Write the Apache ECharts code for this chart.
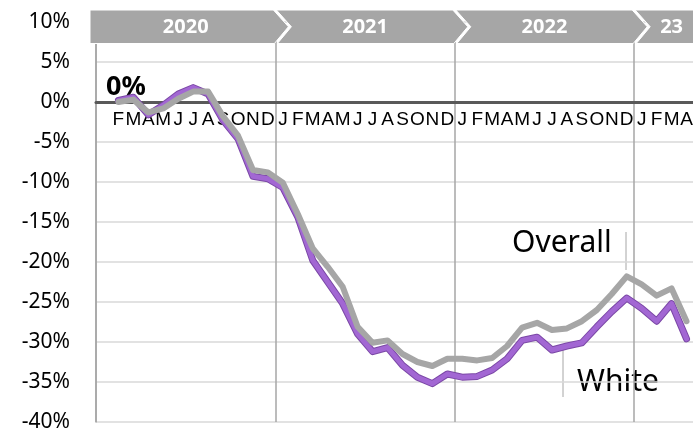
<!DOCTYPE html>
<html>
<head>
<meta charset="utf-8">
<script src="https://cdn.jsdelivr.net/npm/echarts@6/dist/echarts.min.js"></script>
</head>
<body style="margin: 0">
<div id="container" style="width: 693px; height: 430px"></div>
<script>
// month letters, Jan 2020 slot left empty
var months = ['', 'F', 'M', 'A', 'M', 'J', 'J', 'A', 'S', 'O', 'N', 'D',
  'J', 'F', 'M', 'A', 'M', 'J', 'J', 'A', 'S', 'O', 'N', 'D',
  'J', 'F', 'M', 'A', 'M', 'J', 'J', 'A', 'S', 'O', 'N', 'D',
  'J', 'F', 'M', 'A'];
var overall = [null, 0.0, 0.3, -1.3, -0.8, 0.4, 1.3, 1.3, -1.8, -4.2, -8.5, -8.8,
  -10.1, -14.0, -18.3, -20.6, -23.1, -28.1, -30.1, -29.8, -31.5, -32.5, -33.0, -32.1,
  -32.1, -32.3, -32.0, -30.5, -28.2, -27.6, -28.5, -28.3, -27.4, -26.0, -24.0, -21.8,
  -22.8, -24.2, -23.3, -27.4];
var white = [null, 0.2, 0.6, -1.6, -0.4, 1.0, 1.8, 1.0, -2.3, -4.6, -9.3, -9.6,
  -10.7, -14.4, -19.8, -22.5, -25.2, -29.0, -31.2, -30.7, -32.9, -34.4, -35.2, -34.0,
  -34.4, -34.3, -33.5, -32.1, -29.8, -29.4, -31.0, -30.5, -30.1, -28.1, -26.2, -24.5,
  -25.8, -27.4, -25.2, -29.6];
var years = ['2020', '2021', '2022', '23'];
var yearStart = [0, 12, 24, 36];
var yearLen = [12, 12, 12, 5];

var yMin = -40, yMax = 10;
var gridH = 400;
var font = '"Noto Sans", "Open Sans", sans-serif';
var chart = echarts.init(document.getElementById('container'));

var option = {
  animation: false,
  grid: { left: 96, top: 22, width: 598, height: gridH, outerBoundsMode: 'none' },
  xAxis: {
    type: 'category',
    data: months,
    // month axis sits on the 0% line
    offset: -gridH * (0 - yMin) / (yMax - yMin),
    axisLine: { onZero: false, lineStyle: { color: '#595959', width: 3 } },
    axisTick: { show: false },
    axisLabel: {
      interval: 0, margin: 8, color: '#000',
      fontSize: 19, fontFamily: '"Liberation Sans Narrow", "Liberation Sans", sans-serif'
    },
    splitLine: {
      show: true,
      interval: function (i) { return i % 12 === 0; },
      lineStyle: { color: '#A6A6A6', width: 1.5 }
    }
  },
  yAxis: {
    type: 'value', min: yMin, max: yMax, interval: 5,
    axisLine: { show: true, lineStyle: { color: '#A6A6A6', width: 1.5 } },
    axisTick: { show: false },
    axisLabel: { formatter: '{value}%', color: '#000', fontSize: 21, fontFamily: font, margin: 26 },
    splitLine: { lineStyle: { color: '#D9D9D9', width: 1.5 } }
  },
  series: [
    {
      name: 'White edge', type: 'line', data: white, symbol: 'none', z: 2,
      lineStyle: { color: '#7B48A6', width: 7, join: 'round', cap: 'round' }
    },
    {
      name: 'White', type: 'line', data: white, symbol: 'none', z: 3,
      lineStyle: { color: '#A267D3', width: 5, join: 'round', cap: 'round' }
    },
    {
      name: 'Overall', type: 'line', data: overall, symbol: 'none', z: 4,
      lineStyle: { color: '#A6A6A6', width: 6, join: 'round', cap: 'round' }
    },
    {
      // year banner along the top
      type: 'custom', z: 10, clip: false,
      data: years.map(function (y, i) { return [yearStart[i], 0]; }),
      renderItem: function (params, api) {
        var i = params.dataIndex;
        var band = api.size([1, 0])[0];
        var x0 = api.coord([yearStart[i], 0])[0] - band / 2;
        var x1 = x0 + band * yearLen[i];
        var top = params.coordSys.y - 12, bot = params.coordSys.y + 21.5;
        var mid = (top + bot) / 2;
        var pts;
        if (i === 0) {
          pts = [[x0 - 6, top], [x1 - 2, top], [x1 + 13, mid], [x1 - 1, bot], [x0 - 6, bot]];
        } else {
          pts = [[x0 + 1, top], [x1 - 2, top], [x1 + 13, mid], [x1 - 1, bot], [x0 + 2, bot], [x0 + 16, mid]];
        }
        return {
          type: 'group',
          children: [
            { type: 'polygon', shape: { points: pts }, style: { fill: '#A6A6A6', stroke: '#fff', lineWidth: 1 } },
            {
              type: 'text',
              style: {
                text: years[i], x: (x0 + x1) / 2, y: mid + 1, align: 'center', verticalAlign: 'middle',
                fill: '#fff', font: 'bold 20px ' + font
              }
            }
          ]
        };
      }
    }
  ],
  graphic: [
    { type: 'text', left: 106, top: 74, style: { text: '0%', font: 'bold 27px ' + font, fill: '#000' } },
    { type: 'text', left: 512, top: 228, style: { text: 'Overall', font: '30px ' + font, fill: '#000' } },
    { type: 'line', shape: { x1: 626, y1: 232, x2: 626, y2: 270 }, style: { stroke: '#A6A6A6', lineWidth: 1 } },
    { type: 'text', left: 577, top: 367, style: { text: 'White', font: '30px ' + font, fill: '#000' } },
    { type: 'line', shape: { x1: 563, y1: 347, x2: 563, y2: 397 }, style: { stroke: '#A6A6A6', lineWidth: 1 } }
  ]
};

chart.setOption(option);
</script>
</body>
</html>
